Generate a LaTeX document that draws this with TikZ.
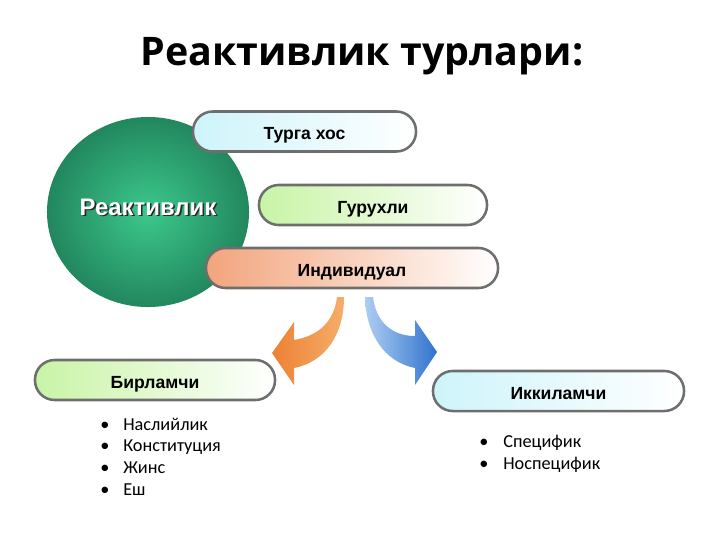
\documentclass[tikz,border=0pt]{standalone}
\usepackage{fontspec}
\setmainfont{Liberation Sans}
\newfontfamily\titlefont{Open Sans}
\newfontfamily\listfont{Carlito}
\usepackage{tikz}
\usetikzlibrary{positioning}
\definecolor{cyan2}{RGB}{205, 244, 250}
\definecolor{green2}{RGB}{200, 244, 165}
\definecolor{salmon2}{RGB}{242, 164, 124}
\definecolor{border2}{RGB}{110, 110, 110}
\definecolor{ballgreen}{RGB}{60, 200, 140}
\definecolor{darkballgreen}{RGB}{34, 135, 94}
\definecolor{shadow2}{RGB}{40, 40, 40}
\definecolor{lightblue2}{RGB}{165, 200, 240}
\definecolor{blue2}{RGB}{25, 100, 200}
\definecolor{lightorange2}{RGB}{245, 165, 90}
\definecolor{orange2}{RGB}{235, 115, 30}

\tikzset{
  pill/.style={draw=border2, line width=1.8pt, rounded corners=14pt, minimum height=1cm,
    text height=11.7pt, text depth=0pt,
    right color=white, font=\bfseries\fontsize{12.5}{14}\selectfont},
  itemtext/.style={font=\listfont\fontsize{13}{15}\selectfont, inner sep=0pt},
}

\begin{document}
\begin{tikzpicture}[x=0.025cm, y=-0.025cm]
	\useasboundingbox (0,0) rectangle (720,540);
	\node[anchor=base, font=\titlefont\bfseries\fontsize{28}{32}\selectfont] (title) at (362,65) {Реактивлик турлари:};

	\shade[inner color=ballgreen, outer color=darkballgreen] (148,212) ellipse (2.525cm and 2.375cm);
	\node[font=\bfseries\fontsize{17}{20}\selectfont, text=shadow2] (reakshadow) at (149.6,208.6) {Реактивлик};
	\node[font=\bfseries\fontsize{17}{20}\selectfont, text=white] (reak) at (148,207) {Реактивлик};

	\node[pill, left color=cyan2, minimum width=5.575cm] (turga) at (304.5,131.5) {Турга хос};
	\node[pill, left color=green2, minimum width=5.7cm] (guruh) at (373,205) {Гурухли};
	\node[pill, left color=salmon2, minimum width=7.3cm] (indiv) at (352,268) {Индивидуал};

	% curved arrows
	\shade[left color=orange2, right color=lightorange2, opacity=0.9] (337,297) .. controls (334,322) and (318,336) .. (294,340)
		-- (294,322) -- (272,353) -- (294,385) -- (294,368) .. controls (325,362) and (344,335) .. (344,297) -- cycle;
	\shade[left color=lightblue2, right color=blue2, opacity=0.9] (373,297) .. controls (376,322) and (392,336) .. (415,336)
		-- (415,320) -- (437,352) -- (415,385) -- (415,368) .. controls (385,362) and (366,335) .. (365,297) -- cycle;

	\node[pill, left color=green2, minimum width=6cm] (birlam) at (155,380) {Бирламчи};
	\node[pill, left color=cyan2, minimum width=6.275cm] (ikkilam) at (558.5,391) {Иккиламчи};

	\foreach \t [count=\i] in {Наслийлик, Конституция, Жинс, Еш} {
		\node[itemtext, anchor=base] (birdot\i) at (105,{430+21.7*(\i-1)}) {•};
		\node[itemtext, anchor=base west] (bir\i) at (123,{430+21.7*(\i-1)}) {\t};
	}
	\foreach \t [count=\i] in {Специфик, Носпецифик} {
		\node[itemtext, anchor=base] (ikdot\i) at (484,{447+22*(\i-1)}) {•};
		\node[itemtext, anchor=base west] (ik\i) at (503,{447+22*(\i-1)}) {\t};
	}
\end{tikzpicture}
\end{document}
